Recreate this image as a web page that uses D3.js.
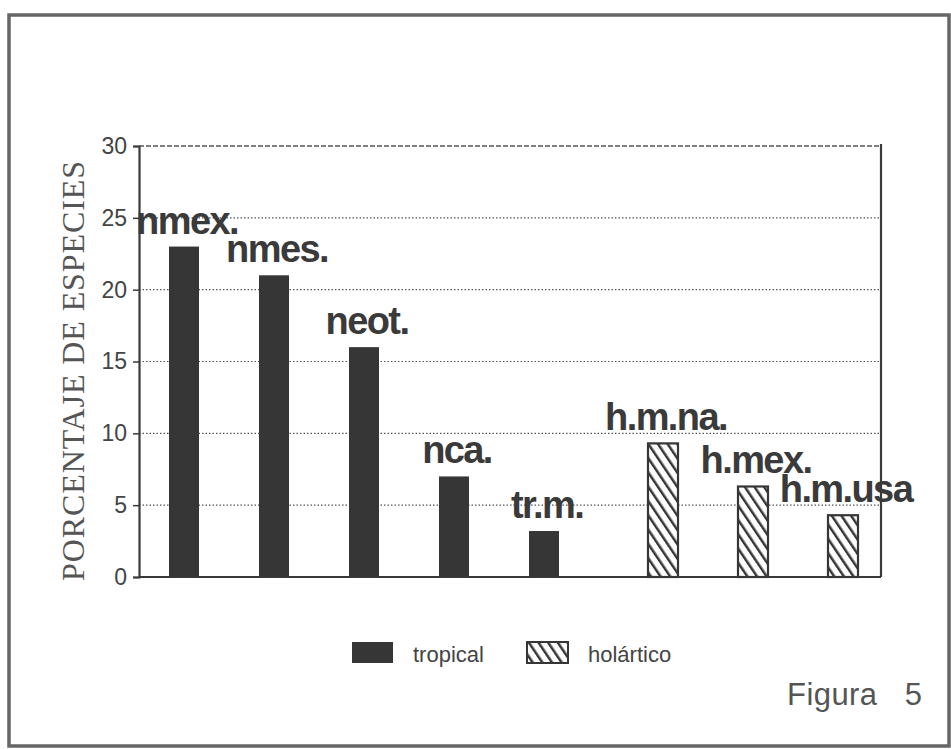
<!DOCTYPE html>
<html>
<head>
<meta charset="utf-8">
<script src="https://cdn.jsdelivr.net/npm/d3@7"></script>
<style>
  html, body { margin: 0; padding: 0; background: #fff; }
  svg { display: block; }
</style>
</head>
<body>
<svg id="chart" width="951" height="749"></svg>
<script>
// ---- data ----
const categories = ["nmex.", "nmes.", "neot.", "nca.", "tr.m.", "h.m.na.", "h.mex.", "h.m.usa"];
const groups = ["tropical", "tropical", "tropical", "tropical", "tropical", "holártico", "holártico", "holártico"];
const values = [23, 21, 16, 7, 3.2, 9.3, 6.3, 4.3];
const yTicks = [0, 5, 10, 15, 20, 25, 30];
const legendLabels = ["tropical", "holártico"];
const yTitle = "PORCENTAJE DE ESPECIES";
const figLabel = "Figura   5";

// ---- layout ----
const svg = d3.select("#chart");
const plot = { left: 139, right: 881, top: 146, bottom: 577 };
const groupGap = 29;
const ink = "#363636";

const y = d3.scaleLinear().domain([0, 30]).range([plot.bottom, plot.top]);
const x = d3.scaleBand().domain(categories)
  .range([plot.left, plot.left + 720])
  .paddingInner(2 / 3).paddingOuter(1 / 3);
const xPos = (d, i) => x(d) + (groups[i] === "holártico" ? groupGap : 0);

// hatch pattern
const defs = svg.append("defs");
const pat = defs.append("pattern")
  .attr("id", "hatch").attr("patternUnits", "userSpaceOnUse")
  .attr("width", 8).attr("height", 8)
  .attr("patternTransform", "rotate(-34)");
pat.append("rect").attr("width", 8).attr("height", 8).attr("fill", "#fff");
pat.append("line").attr("x1", 0).attr("y1", 0).attr("x2", 0).attr("y2", 8)
  .attr("stroke", ink).attr("stroke-width", 5);

// outer frame
svg.append("rect").attr("x", 9).attr("y", 15).attr("width", 940).attr("height", 731)
  .attr("fill", "none").attr("stroke", "#666").attr("stroke-width", 3.5);

// gridlines (dotted)
svg.append("g").selectAll("line").data(yTicks.filter(t => t > 0 && t < 30)).join("line")
  .attr("x1", plot.left).attr("x2", plot.right)
  .attr("y1", d => y(d)).attr("y2", d => y(d))
  .attr("stroke", "#555").attr("stroke-width", 1.2).attr("stroke-dasharray", "1.5,2");

// top border dashed
svg.append("line").attr("x1", plot.left).attr("x2", plot.right)
  .attr("y1", y(30)).attr("y2", y(30))
  .attr("stroke", "#555").attr("stroke-width", 1.5).attr("stroke-dasharray", "5,2");

// y axis
const yAxis = d3.axisLeft(y).tickValues(yTicks).tickSize(6).tickPadding(6).tickFormat(d3.format("d"));
const gy = svg.append("g").attr("transform", `translate(${plot.left},0)`).call(yAxis);
gy.attr("font-size", null).attr("font-family", null);
gy.select(".domain").attr("stroke", "#3a3a3a").attr("stroke-width", 2.2);
gy.selectAll(".tick line").attr("stroke", "#3a3a3a").attr("stroke-width", 1.5);
gy.selectAll(".tick text")
  .style("font-family", "'Liberation Sans', Arial, sans-serif")
  .style("font-size", "23px").attr("fill", "#444");

// right and bottom lines
svg.append("line").attr("x1", plot.right).attr("x2", plot.right)
  .attr("y1", plot.top - 2).attr("y2", plot.bottom)
  .attr("stroke", "#3a3a3a").attr("stroke-width", 2.2);
svg.append("line").attr("x1", plot.left).attr("x2", plot.right)
  .attr("y1", plot.bottom).attr("y2", plot.bottom)
  .attr("stroke", "#3a3a3a").attr("stroke-width", 2.2);

// bars
svg.append("g").selectAll("rect").data(categories).join("rect")
  .attr("x", (d, i) => xPos(d, i))
  .attr("y", (d, i) => y(values[i]))
  .attr("width", x.bandwidth())
  .attr("height", (d, i) => y(0) - y(values[i]))
  .attr("fill", (d, i) => groups[i] === "tropical" ? ink : "url(#hatch)")
  .attr("stroke", ink)
  .attr("stroke-width", (d, i) => groups[i] === "tropical" ? 0 : 2.2);

// bar labels
svg.append("g").selectAll("text").data(categories).join("text")
  .attr("x", (d, i) => xPos(d, i) + x.bandwidth() / 2 + 3)
  .attr("y", (d, i) => y(values[i]) - 13)
  .attr("text-anchor", "middle")
  .attr("font-family", "Liberation Sans, Arial, sans-serif")
  .attr("font-weight", "bold")
  .attr("font-size", 38)
  .attr("letter-spacing", -1.6)
  .attr("fill", "#3a3a3a")
  .text(d => d);

// y title
svg.append("text")
  .attr("transform", `translate(73,371) rotate(-90)`)
  .attr("text-anchor", "middle").attr("dominant-baseline", "central")
  .attr("font-family", "Liberation Serif, Times New Roman, serif")
  .attr("font-size", 32).attr("fill", "#555")
  .attr("textLength", 420).attr("lengthAdjust", "spacing")
  .text(yTitle);

// legend
const legX = [352, 527];
const lg = svg.append("g").selectAll("g").data(legendLabels).join("g")
  .attr("transform", (d, i) => `translate(${legX[i]},642)`);
lg.append("rect").attr("width", 41).attr("height", 21)
  .attr("fill", (d, i) => i === 0 ? ink : "url(#hatch)")
  .attr("stroke", ink).attr("stroke-width", (d, i) => i === 0 ? 0 : 2);
lg.append("text").attr("x", 61).attr("y", 20)
  .attr("font-family", "Liberation Sans, Arial, sans-serif")
  .attr("font-size", 22).attr("fill", "#444")
  .text(d => d);

// figure label
svg.append("text").attr("x", 787).attr("y", 705)
  .attr("font-family", "Liberation Sans, Arial, sans-serif")
  .attr("font-size", 31).attr("fill", "#555")
  .style("white-space", "pre")
  .attr("textLength", 135).attr("lengthAdjust", "spacing")
  .text(figLabel);
</script>
</body>
</html>
